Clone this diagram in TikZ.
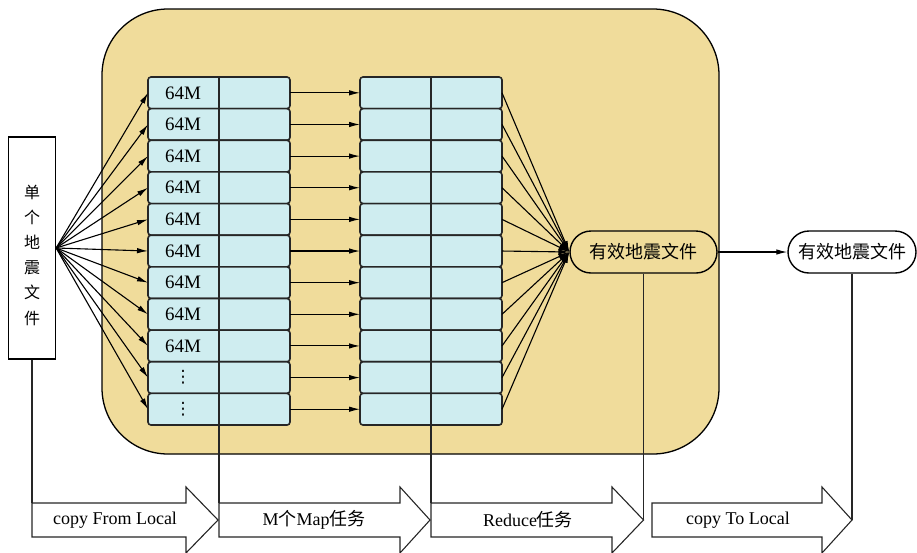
\documentclass[tikz,border=0pt]{standalone}
\usepackage{fontspec}
\setmainfont{Liberation Serif}
\newfontfamily\cjk{Noto Sans CJK SC}
\newfontfamily\dejavu{DejaVu Sans}
\usetikzlibrary{arrows.meta,shapes.misc}
\definecolor{bgtan}{HTML}{F0DC9B}
\definecolor{cellcyan}{HTML}{CFEDF0}
\begin{document}
\begin{tikzpicture}[x=1pt,y=-1pt,
  font=\fontsize{18}{20}\selectfont,
  rowbox/.style={draw=black!85, line width=1.6pt, fill=cellcyan, rounded corners=3pt,
    minimum width=142pt, minimum height=31.64pt, inner sep=0pt, outer sep=0pt},
  conn/.style={line width=1.1pt, -{Latex[length=11pt,width=5.5pt]}},
  plainline/.style={line width=1.1pt, draw=black!85},
  stad/.style={draw, line width=1.4pt, rounded rectangle, minimum height=42pt, inner sep=0pt},
  blockarrow/.style={draw=black!85, line width=1.1pt, fill=white},
  cjktext/.style={font=\cjk\fontsize{18}{20}\selectfont}
]
\useasboundingbox (0,0) rectangle (917,552);

% big container
\draw[fill=bgtan, line width=1.3pt, rounded corners=66pt] (102,9) rectangle (719,454);

% coordinates for bottom arrows
\coordinate (a1nw) at (32,503);
\coordinate (a2nw) at (219,503);
\coordinate (a3nw) at (431,503);
\coordinate (a3tip) at (643.5,520);
\coordinate (a4tip) at (852,520);

% source box
\node[draw, line width=1.3pt, minimum width=47pt, minimum height=222pt, inner sep=0pt, fill=white] (src) at (32,248) {};
\node[font=\cjk\fontsize{16}{25.2}\selectfont, align=center, inner sep=0pt] (srctext) at (32,255) {单\\个\\地\\震\\文\\件};

% result stadiums
\node[stad, fill=bgtan, minimum width=147pt] (res) at (643.5,252) {};
\node[stad, fill=white, minimum width=128pt] (out) at (852,252) {};

% rows
\foreach \i in {1,...,11}{
  \pgfmathsetmacro{\yy}{77+(\i-0.5)*31.64}
  \node[rowbox] (L\i) at (219,\yy) {};
  \node[rowbox] (M\i) at (431,\yy) {};
}

% connectors
\foreach \i in {1,...,11}{
  \draw[conn] (src.east) -- (L\i.west);
  \draw[conn] (L\i.east) -- (M\i.west);
  \draw[conn] (M\i.east) -- (res.west);
}
\draw[conn] (res.east) -- (out.west);

% dividers and vertical lines
\draw[plainline] (L1.north) -- (a2nw);
\draw[plainline] (M1.north) -- (a3nw);
\draw[plainline] (src.south) -- (a1nw);
\draw[plainline] (res.south) -- (a3tip);
\draw[plainline] (out.south) -- (a4tip);

% row labels
\foreach \i in {1,...,9}{
  \node[font=\fontsize{19}{20}\selectfont] (t\i) at ([xshift=-36pt]L\i.center) {64M};
}
\node[font=\dejavu\fontsize{17}{18}\selectfont, inner sep=0pt] (t10) at ([xshift=-36pt]L10.center) {⋮};
\node[font=\dejavu\fontsize{17}{18}\selectfont, inner sep=0pt] (t11) at ([xshift=-36pt]L11.center) {⋮};

% stadium texts
\node[cjktext] (restext) at (res) {有效地震文件};
\node[cjktext] (outtext) at (out) {有效地震文件};

% bottom block arrows
\draw[blockarrow] (a1nw) -- (186,503) -- (186,487) -- (218,520) -- (186,553) -- (186,537) -- (32,537) -- cycle;
\draw[blockarrow] (a2nw) -- (400,503) -- (400,487) -- (430,520) -- (400,553) -- (400,537) -- (219,537) -- cycle;
\draw[blockarrow] (a3nw) -- (612,503) -- (612,487) -- (a3tip) -- (612,553) -- (612,537) -- (431,537) -- cycle;
\draw[blockarrow] (652,503) -- (822,503) -- (822,487) -- (a4tip) -- (822,553) -- (822,537) -- (652,537) -- cycle;

\node (b1) at (115,520) {copy From Local};
\node (b2) at (314,520) {M{\cjk 个}Map{\cjk 任务}};
\node (b3) at (528,520) {Reduce{\cjk 任务}};
\node (b4) at (738,520) {copy To Local};
\end{tikzpicture}
\end{document}
